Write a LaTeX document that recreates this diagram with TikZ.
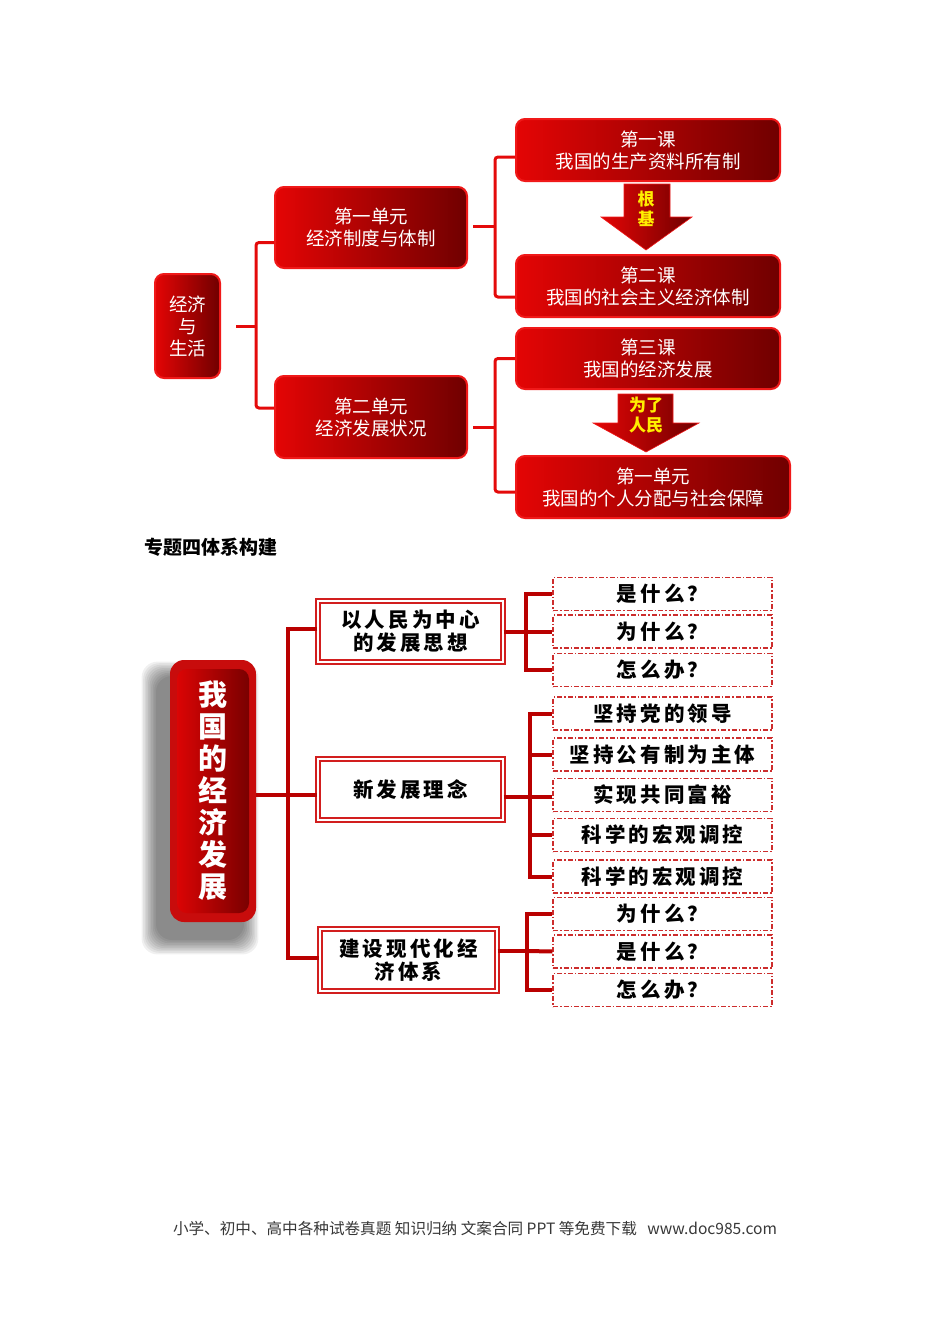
\documentclass[tikz,border=0pt]{standalone}
\usepackage{fontspec}
\setmainfont{Noto Sans CJK SC}
\newfontfamily\cjkls[LetterSpace=15]{Noto Sans CJK SC}
\usetikzlibrary{calc}
\definecolor{tbord}{RGB}{240,25,25}
\definecolor{tl}{RGB}{228,5,5}
\definecolor{tr}{RGB}{112,0,0}
\definecolor{tconnc}{RGB}{228,10,10}
\definecolor{bconnc}{RGB}{185,0,0}
\definecolor{dred}{RGB}{205,45,45}
\definecolor{dbord}{RGB}{210,30,30}
\definecolor{mainout}{RGB}{200,12,12}
\definecolor{arrowtxt}{RGB}{255,238,0}
\definecolor{foot}{RGB}{55,55,55}
\begin{document}
\begin{tikzpicture}[x=1pt,y=-1pt,
  topbox/.style={draw=tbord, line width=2pt, rounded corners=9pt, left color=tl, right color=tr,
    text=white, font=\fontsize{18.5}{22}\selectfont, align=center, inner sep=0pt},
  tconn/.style={draw=tconnc, line width=3pt, rounded corners=3pt},
  bconn/.style={draw=bconnc, line width=4pt},
  arrowbody/.style={left color=tl, right color=tr, draw=tbord, line width=0.6pt},
  arrowlbl/.style={text=arrowtxt, font=\bfseries\fontsize{17}{20.5}\selectfont, align=center, inner sep=0pt},
  dbox/.style={draw=dbord, double=white, double distance=2.5pt, line width=1.3pt, inner sep=0pt,
    align=center, font=\cjkls\bfseries\fontsize{20.5}{23}\selectfont},
  leaf/.style={draw=dred, line width=1.1pt, dash pattern=on 5pt off 2pt on 1.5pt off 2pt,
    minimum width=219pt, minimum height=33pt, inner sep=0pt,
    font=\cjkls\bfseries\fontsize{20.5}{22}\selectfont},
]
\useasboundingbox (0,0) rectangle (950,1344);

% ---------------- top diagram ----------------
\node[topbox, minimum width=65pt, minimum height=104pt] (n0) at (187.5,326) {经济\\与\\生活};
\node[topbox, minimum width=192pt, minimum height=81pt] (u1) at (371,227.5) {第一单元\\经济制度与体制};
\node[topbox, minimum width=192pt, minimum height=82pt] (u2) at (371,417) {第二单元\\经济发展状况};
\node[topbox, minimum width=264pt, minimum height=62pt] (l1) at (648,150) {第一课\\我国的生产资料所有制};
\node[topbox, minimum width=264pt, minimum height=62pt] (l2) at (648,286) {第二课\\我国的社会主义经济体制};
\node[topbox, minimum width=264pt, minimum height=61pt] (l3) at (648,358.5) {第三课\\我国的经济发展};
\node[topbox, minimum width=274pt, minimum height=62pt] (l4) at (653,487) {第一单元\\我国的个人分配与社会保障};

% arrows
\path[arrowbody] (624,184) -- (670,184) -- (670,217) -- (692,217) -- (646,250) -- (601,217) -- (624,217) -- cycle;
\node[arrowlbl] (a1t) at (646,209) {根\\基};
\path[arrowbody] (618,394) -- (673,394) -- (673,423) -- (699,423) -- (646,452) -- (593,423) -- (618,423) -- cycle;
\node[arrowlbl] (a2t) at (646,415) {为了\\人民};

% connectors top
\coordinate (j0) at (256,326);
\draw[tconn] ([xshift=15pt]n0.east) -- (j0);
\draw[tconn] ([yshift=-15pt]u1.west) -| (j0) |- ([yshift=9pt]u2.west);
\coordinate (j1) at (495,226);
\draw[tconn] ([xshift=5pt]u1.east |- j1) -- (j1);
\draw[tconn] ([yshift=-7pt]l1.west) -| (j1) |- ([yshift=-11pt]l2.west);
\coordinate (j2) at (495,427);
\draw[tconn] ([xshift=5pt]u2.east |- j2) -- (j2);
\draw[tconn] (l3.west) -| (j2) |- ([yshift=-5pt]l4.west);

% heading
\node[anchor=west, inner sep=0pt, font=\bfseries\fontsize{19}{20}\selectfont] (title) at (144,547) {专题四体系构建};

% ---------------- bottom diagram ----------------
% shadow
\foreach \i in {0,...,9}{
  \fill[black, opacity=0.06, rounded corners=16pt]
    (156-\i*1.6, 676-\i*1.6) rectangle (244+\i*1.6, 940+\i*1.6);
}
\node[fill=mainout, rounded corners=14pt, minimum width=86pt, minimum height=262pt, inner sep=0pt,
  path picture={\shade[left color=tl, right color=tr, rounded corners=10pt]
    ([shift={(7,9)}]path picture bounding box.north west) rectangle
    ([shift={(-7,-9)}]path picture bounding box.south east);},
  text=white, align=center, font=\bfseries\fontsize{29}{32}\selectfont] (main) at (213,791)
  {我\\国\\的\\经\\济\\发\\展};

\node[dbox, minimum width=185pt, minimum height=61pt] (A) at (410.5,631.5) {以人民为中心\\的发展思想};
\node[dbox, minimum width=185pt, minimum height=61pt] (B) at (410.5,789.5) {新发展理念};
\node[dbox, minimum width=177pt, minimum height=62pt] (C) at (408.5,960) {建设现代化经\\济体系};

\node[leaf] (g1a) at (662.5,594) {是什么？};
\node[leaf] (g1b) at (662.5,631.5) {为什么？};
\node[leaf] (g1c) at (662.5,670) {怎么办？};
\node[leaf] (g2a) at (662.5,713.5) {坚持党的领导};
\node[leaf] (g2b) at (662.5,754.5) {坚持公有制为主体};
\node[leaf] (g2c) at (662.5,795) {实现共同富裕};
\node[leaf] (g2d) at (662.5,835) {科学的宏观调控};
\node[leaf] (g2e) at (662.5,876.5) {科学的宏观调控};
\node[leaf] (g3a) at (662.5,914) {为什么？};
\node[leaf] (g3b) at (662.5,951.5) {是什么？};
\node[leaf] (g3c) at (662.5,990) {怎么办？};

% connectors bottom
\coordinate (k0) at (288,795);
\draw[bconn] ([yshift=-4pt]main.east) -- (k0);
\draw[bconn] ([yshift=2.5pt]A.west) -| (k0) |- ([yshift=2pt]C.west);
\draw[bconn] (k0) -- ([yshift=-5.5pt]B.west);

\coordinate (k1) at (526,631.5);
\draw[bconn] (A.east) -- (k1);
\draw[bconn] (g1a.west) -| (k1) |- (g1c.west);
\draw[bconn] (k1) -- (g1b.west);

\coordinate (k2) at (530,797);
\draw[bconn] ([yshift=-7.5pt]B.east) -- (k2);
\draw[bconn] (g2a.west) -| (k2) |- (g2e.west);
\draw[bconn] (g2b.west) -- (g2b.west -| k2);
\draw[bconn] (k2) -- (g2c.west |- k2);
\draw[bconn] (g2d.west) -- (g2d.west -| k2);

\coordinate (k3) at (527,951);
\draw[bconn] ([yshift=9pt]C.east) -- (k3);
\draw[bconn] (g3a.west) -| (k3) |- (g3c.west);
\draw[bconn] (k3) -- (g3b.west);

% footer
\node[text=foot, inner sep=0pt, font=\fontsize{15.6}{18}\selectfont] (footer) at (475,1229)
  {小学、初中、高中各种试卷真题 知识归纳 文案合同 PPT 等免费下载\ \ \ www.doc985.com};
\end{tikzpicture}
\end{document}
